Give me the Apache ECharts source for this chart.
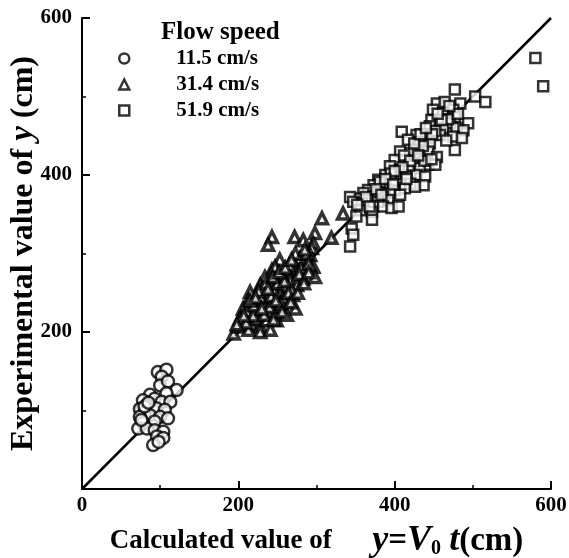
<!DOCTYPE html>
<html>
<head>
<meta charset="utf-8">
<script src="https://cdn.jsdelivr.net/npm/echarts@6/dist/echarts.min.js"></script>
<style>
  html, body { margin: 0; padding: 0; background: #fff; }
  #chart { width: 569px; height: 558px; }
</style>
</head>
<body>
<div id="chart"></div>
<script>
// axis ticks
const axisMin = 0;
const axisMax = 600;
const axisStep = 200;

// legend names
const seriesNames = ['11.5 cm/s', '31.4 cm/s', '51.9 cm/s'];

// 11.5 cm/s (circles)
const slowPoints = [
  [97, 149], [108, 152], [102, 143], [100, 132], [110, 137], [121, 126],
  [87, 120], [108, 122], [93, 115], [78, 113], [102, 111], [113, 111],
  [83, 107], [95, 103], [76, 101], [106, 101], [74, 102], [80, 98],
  [87, 94], [74, 92], [100, 92], [110, 90], [93, 86], [78, 84],
  [72, 77], [83, 77], [93, 75], [104, 73], [96, 67], [104, 65],
  [91, 56], [98, 60], [76, 88], [80, 105], [85, 110]
];

// 31.4 cm/s (triangles)
const midPoints = [
  [307, 345], [243, 321], [238, 311], [272, 321], [283, 317], [298, 326],
  [296, 313], [294, 307], [292, 298], [288, 292], [296, 283], [298, 270],
  [253, 292], [270, 290], [279, 294], [243, 279], [262, 279], [275, 279],
  [234, 270], [249, 268], [266, 266], [283, 268], [228, 260], [243, 258],
  [258, 258], [275, 260], [224, 249], [238, 247], [253, 249], [270, 247],
  [215, 251], [213, 241], [228, 239], [245, 239], [262, 239], [273, 230],
  [206, 230], [221, 228], [236, 228], [251, 228], [204, 220], [194, 198],
  [200, 207], [209, 215], [217, 209], [228, 207], [224, 217], [236, 215],
  [228, 200], [249, 215], [247, 224], [262, 222], [238, 226], [253, 232],
  [211, 226], [202, 217], [241, 203], [213, 203], [334, 351], [319, 320],
  [257, 272], [265, 285], [246, 252], [232, 236], [219, 221], [257, 243],
  [280, 282], [268, 254], [250, 262], [240, 232], [229, 244], [287, 300],
  [210, 212], [255, 236], [264, 250], [247, 283], [231, 255], [220, 234],
  [278, 274], [290, 287], [273, 300], [285, 305], [242, 246], [259, 265],
  [235, 262], [226, 252], [244, 270], [252, 276], [260, 282], [268, 292],
  [215, 240], [222, 244], [207, 221], [198, 210], [233, 222], [245, 216],
  [256, 226], [267, 238], [276, 250], [284, 262], [290, 276], [230, 230],
  [238, 255], [248, 240]
];

// 51.9 cm/s (squares)
const fastPoints = [
  [477, 509], [503, 500], [516, 493], [454, 491], [464, 493], [484, 491],
  [449, 483], [462, 479], [475, 483], [477, 474], [447, 470], [458, 468],
  [471, 466], [494, 466], [445, 462], [462, 460], [479, 460], [488, 457],
  [409, 455], [458, 451], [475, 449], [486, 447], [428, 451], [441, 447],
  [417, 445], [432, 442], [445, 440], [477, 432], [428, 432], [443, 430],
  [407, 430], [420, 428], [454, 423], [432, 421], [400, 419], [413, 419],
  [424, 415], [443, 413], [452, 413], [394, 411], [407, 406], [420, 404],
  [432, 409], [388, 400], [403, 398], [415, 398], [428, 400], [439, 398],
  [379, 394], [392, 389], [407, 389], [420, 389], [437, 387], [426, 385],
  [373, 387], [385, 383], [400, 381], [413, 383], [366, 381], [379, 379],
  [394, 377], [407, 375], [360, 377], [373, 372], [385, 372], [354, 370],
  [366, 368], [379, 366], [392, 368], [343, 372], [347, 366], [358, 364],
  [373, 360], [385, 360], [396, 358], [405, 360], [356, 355], [371, 353],
  [351, 347], [371, 343], [345, 332], [347, 324], [343, 309], [580, 549],
  [590, 513], [468, 471], [452, 456], [436, 437], [418, 412], [398, 393],
  [381, 391], [466, 444], [481, 478], [438, 418], [412, 425], [395, 402],
  [425, 440], [433, 452], [448, 452], [460, 470], [470, 488], [455, 478],
  [440, 460], [420, 418], [410, 410], [400, 405], [388, 395], [376, 382],
  [363, 372], [352, 362], [368, 360], [383, 375], [398, 388], [415, 395],
  [430, 425], [447, 420]
];

// y = x reference line
const linePoints = [[0, 0], [600, 600]];

const serif = "'Liberation Serif', 'DejaVu Serif', serif";

const chart = echarts.init(document.getElementById('chart'), null, { renderer: 'canvas' });

function markStyle(w) {
  return { color: '#fff', borderColor: '#000', borderWidth: w };
}

function makeAxis(isX) {
  return {
    type: 'value',
    min: axisMin,
    max: axisMax,
    interval: axisStep,
    nameLocation: 'middle',
    nameMoveOverlap: false,
    axisLine: { show: true, onZero: false, lineStyle: { color: '#000', width: 2 } },
    axisTick: { show: true, inside: true, length: 8, lineStyle: { color: '#000', width: 2 } },
    minorTick: { show: true, splitNumber: 2, length: 4, lineStyle: { color: '#000', width: 1.5 } },
    splitLine: { show: false },
    axisLabel: {
      show: true,
      showMinLabel: isX,
      margin: isX ? 6 : 10,
      color: '#000',
      fontFamily: serif,
      fontWeight: 'bold',
      fontSize: 21
    }
  };
}

const xAxis = makeAxis(true);
xAxis.name = 'Calculated value of      {i|y}{e|=}{i|V}{s|0}{e| }{i|t}{e|(cm)}';
xAxis.nameGap = 34;
xAxis.nameTextStyle = {
  color: '#000',
  fontFamily: serif,
  fontWeight: 'bold',
  fontSize: 27,
  rich: {
    i: { fontFamily: serif, fontWeight: 'bold', fontStyle: 'italic', fontSize: 36, color: '#000' },
    e: { fontFamily: serif, fontWeight: 'bold', fontSize: 33, color: '#000' },
    s: { fontFamily: serif, fontWeight: 'bold', fontSize: 20, color: '#000', verticalAlign: 'bottom', padding: [14, 0, 0, 0] }
  }
};

const yAxis = makeAxis(false);
yAxis.name = 'Experimental value of {i|y} (cm)';
yAxis.nameGap = 42;
yAxis.nameTextStyle = {
  color: '#000',
  fontFamily: serif,
  fontWeight: 'bold',
  fontSize: 32,
  rich: {
    i: { fontFamily: serif, fontWeight: 'bold', fontStyle: 'italic', fontSize: 33, color: '#000' }
  }
};

chart.setOption({
  backgroundColor: '#fff',
  animation: false,
  title: {
    text: 'Flow speed',
    left: 156,
    top: 15,
    textStyle: { color: '#000', fontFamily: serif, fontWeight: 'bold', fontSize: 25 }
  },
  legend: {
    orient: 'vertical',
    left: 113,
    top: 43,
    itemWidth: 10,
    itemHeight: 10,
    itemGap: 5,
    data: seriesNames,
    itemStyle: { color: '#fff', borderColor: '#000', borderWidth: 2.5 },
    textStyle: {
      color: '#000', fontFamily: serif, fontWeight: 'bold', fontSize: 21,
      padding: [0, 0, 0, 42]
    }
  },
  grid: {
    left: 82,
    right: 18,
    top: 18,
    bottom: 69,
    outerBoundsMode: 'none'
  },
  xAxis: xAxis,
  yAxis: yAxis,
  series: [
    {
      name: 'y=x',
      type: 'line',
      data: linePoints,
      symbol: 'none',
      lineStyle: { color: '#000', width: 2.5 },
      silent: true,
      z: 1
    },
    {
      name: seriesNames[0],
      type: 'scatter',
      symbol: 'circle',
      symbolSize: 12,
      data: slowPoints,
      itemStyle: markStyle(2.5),
      z: 3
    },
    {
      name: seriesNames[1],
      type: 'scatter',
      symbol: 'triangle',
      symbolSize: 11,
      data: midPoints,
      itemStyle: markStyle(3.5),
      z: 3
    },
    {
      name: seriesNames[2],
      type: 'scatter',
      symbol: 'rect',
      symbolSize: 10,
      data: fastPoints,
      itemStyle: markStyle(2.5),
      z: 3
    }
  ]
});
</script>
</body>
</html>
